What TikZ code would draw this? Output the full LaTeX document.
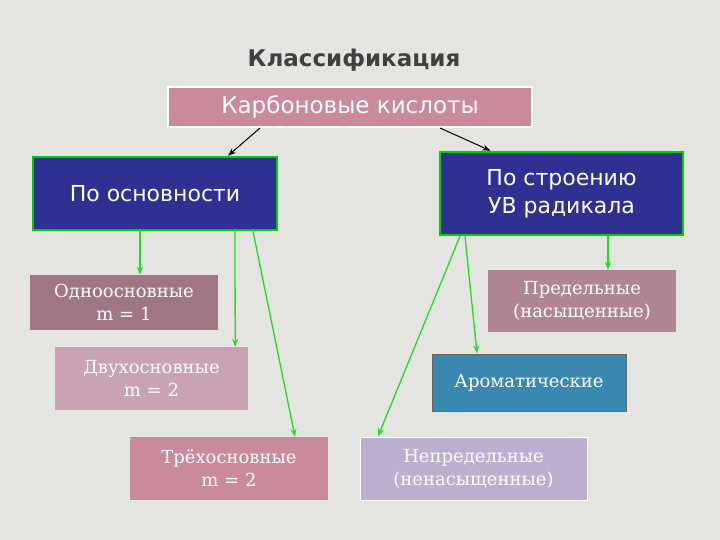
\documentclass[tikz,border=0pt]{standalone}
\usepackage{fontspec}
\setmainfont{DejaVu Serif}
\newfontfamily\sansf{DejaVu Sans}
\usetikzlibrary{arrows.meta}
\definecolor{bg}{HTML}{E4E4E0}
\definecolor{navy}{HTML}{2E3192}
\definecolor{pinkA}{HTML}{C98A9B}
\definecolor{mauve}{HTML}{A07584}
\definecolor{lpink}{HTML}{C9A3B3}
\definecolor{mauve2}{HTML}{B08593}
\definecolor{teal}{HTML}{3A88B0}
\definecolor{lav}{HTML}{BEAED0}
\definecolor{grn}{HTML}{22DD22}
\tikzset{
 box/.style={inner sep=0pt, align=center, text=white},
 topbox/.style={box, line width=2.5pt, draw=green!80!black, fill=navy, font=\sansf\fontsize{22}{28}\selectfont},
 leaf/.style={box, font=\fontsize{18}{23}\selectfont},
 garr/.style={-{Stealth[length=8pt]}, grn, line width=1.3pt},
 karr/.style={-{Stealth[length=8pt]}, black, line width=1pt}
}
\begin{document}
\begin{tikzpicture}[x=1pt,y=-1pt]
\fill[bg] (0,0) rectangle (720,540);
\useasboundingbox (0,0) rectangle (720,540);
\node[font=\sansf\bfseries\fontsize{23}{28}\selectfont, text=black!75] (t) at (354,60) {Классификация};
\node[box, draw=white, line width=2pt, fill=pinkA, minimum width=364, minimum height=40, font=\sansf\fontsize{23}{28}\selectfont] (k) at (350,107) {Карбоновые кислоты};
\node[topbox, minimum width=244, minimum height=73] (o) at (155,193.5) {По основности};
\node[topbox, minimum width=243, minimum height=83] (s) at (561.5,193.5) {По строению\\УВ радикала};
\node[leaf, fill=mauve, minimum width=188, minimum height=55] (m1) at (124,302.5) {Одноосновные\\m = 1};
\node[leaf, fill=lpink, minimum width=193, minimum height=63] (m2) at (151.5,378.5) {Двухосновные\\m = 2};
\node[leaf, fill=pinkA, minimum width=198, minimum height=63] (m3) at (229,468.5) {Трёхосновные\\m = 2};
\node[leaf, fill=mauve2, minimum width=188, minimum height=62] (p) at (582,301) {Предельные\\(насыщенные)};
\node[leaf, fill=teal, draw=black!60, line width=1pt, minimum width=194, minimum height=57] (a) at (529,382.5) {Ароматические};
\node[leaf, fill=lav, draw=white, line width=1pt, minimum width=227, minimum height=63] (n) at (473.5,468.5) {Непредельные\\(ненасыщенные)};
\draw[karr] ([xshift=-90pt]k.south) -- ([xshift=73pt]o.north);
\draw[karr] ([xshift=90pt]k.south) -- ([xshift=-71pt]s.north);
\draw[garr] ([xshift=-15pt]o.south) -- ([xshift=16pt]m1.north);
\draw[garr] ([xshift=80pt]o.south) -- ([xshift=-13pt]m2.north east);
\draw[garr] ([xshift=98pt]o.south) -- ([xshift=66pt]m3.north);
\draw[garr] ([xshift=46.5pt]s.south) -- ([xshift=26pt]p.north);
\draw[garr] ([xshift=-96.5pt]s.south) -- ([xshift=-52pt]a.north);
\draw[garr] ([xshift=-101.5pt]s.south) -- ([xshift=-95.5pt]n.north);
\end{tikzpicture}
\end{document}
